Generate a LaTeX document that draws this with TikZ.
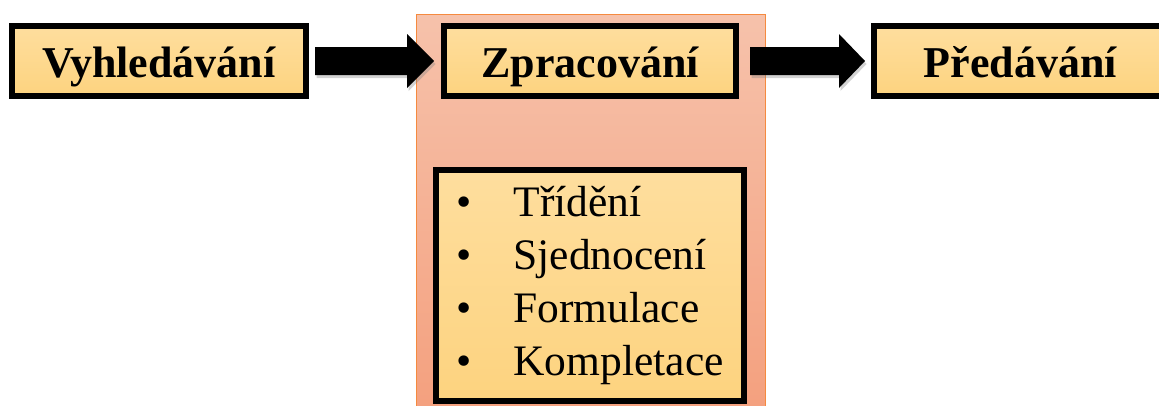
\documentclass[tikz,border=0pt]{standalone}
\usepackage{fontspec}
\setmainfont{Liberation Serif}
\usetikzlibrary{calc,shadows}

\definecolor{boxtop}{HTML}{FEDE9E}
\definecolor{boxbot}{HTML}{FDD37F}
\definecolor{bgtop}{HTML}{F6C2AB}
\definecolor{bgbot}{HTML}{F4A07E}
\definecolor{bgedge}{HTML}{F58A3F}

\tikzset{
  stagebox/.style={draw=black, line width=6pt, top color=boxtop, bottom color=boxbot,
    minimum height=70pt, inner sep=0pt, text height=36pt, text depth=4pt,
    font=\fontsize{44}{52}\selectfont\bfseries},
  listbox/.style={draw=black, line width=6pt, top color=boxtop, bottom color=boxbot,
    minimum width=308pt, minimum height=231pt, inner sep=0pt,
    font=\fontsize{43.5}{53}\selectfont},
  background panel/.style={draw=bgedge, line width=1pt, top color=bgtop, bottom color=bgbot},
  blockarrow/.style={fill=black, drop shadow={shadow xshift=1.5pt, shadow yshift=-3pt, opacity=0.35}}
}

\begin{document}
\begin{tikzpicture}[x=1pt, y=-1pt]
  \useasboundingbox (0,0) rectangle (1159,405);
  \clip (0,0) rectangle (1159,405);

  % shaded panel behind the processing stage
  \path[background panel] (416,14) rectangle (765,412);

  % the three stages
  \node[stagebox, minimum width=294pt] (search) at (159,61) {Vyhledávání};
  \node[stagebox, minimum width=292pt] (proc) at (590,61) {Zpracování};
  \node[stagebox, minimum width=293pt] (hand) at (1020.5,61) {Předávání};

  % steps of the processing stage
  \node[listbox] (steps) at (590,285) {%
    \begin{tabular}{@{}c@{\hspace{42pt}}l@{}}
      \textbullet & Třídění\\
      \textbullet & Sjednocení\\
      \textbullet & Formulace\\
      \textbullet & Kompletace
    \end{tabular}};

  % block arrows between the stages
  \path[blockarrow]
    ($(search.east)+(6,-14)$) -- ($(proc.west)+(-34,-14)$) -- ($(proc.west)+(-34,-27)$)
    -- ($(proc.west)+(-7,0)$)
    -- ($(proc.west)+(-34,27)$) -- ($(proc.west)+(-34,14)$) -- ($(search.east)+(6,14)$) -- cycle;
  \path[blockarrow]
    ($(steps.east |- proc.east)+(3,-14)$) -- ($(hand.west)+(-32,-14)$) -- ($(hand.west)+(-32,-27)$)
    -- ($(hand.west)+(-6,0)$)
    -- ($(hand.west)+(-32,27)$) -- ($(hand.west)+(-32,14)$) -- ($(steps.east |- proc.east)+(3,14)$) -- cycle;
\end{tikzpicture}
\end{document}
